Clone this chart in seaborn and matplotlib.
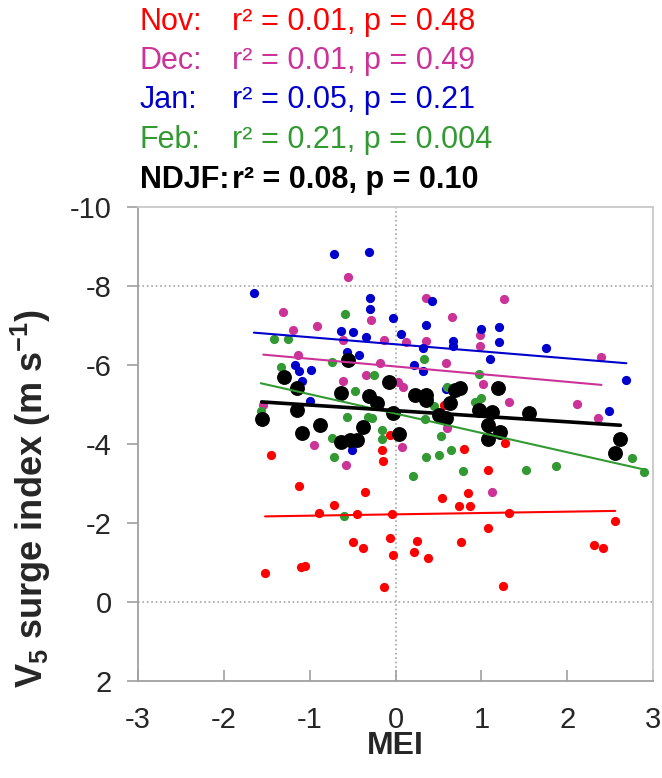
import matplotlib
matplotlib.use('Agg')
import matplotlib.pyplot as plt
import seaborn as sns
import numpy as np

# MEI (x) and V5 surge index (y, m/s) per month
nov_mei = [-1.45, -1.12, -0.89, -0.72, -0.45, -0.35, -0.50, -0.38, -1.52, -1.10,
           -1.05, -0.16, -0.14, -0.13, -0.04, -0.06, -0.03, 0.25, 0.21, 0.375,
           0.54, 0.84, 0.74, 0.87, 0.80, 1.08, 0.76, 1.08, 1.28, 1.25,
           1.32, 2.56, 2.31, 2.42, 0.56, -0.06]
nov_v5 = [-3.72, -2.94, -2.26, -2.45, -2.22, -2.79, -1.53, -1.37, -0.73, -0.88,
          -0.91, -3.85, -3.58, -0.37, -2.22, -1.62, -1.18, -1.54, -1.27, -1.12,
          -2.64, -2.76, -2.43, -2.43, -3.86, -3.35, -1.53, -1.87, -4.02, -0.40,
          -2.26, -2.05, -1.44, -1.36, -4.99, -4.23]

dec_mei = [-0.55, -1.31, -1.19, -0.92, -1.14, -0.61, -0.61, -1.54, -0.34, -0.29,
           -0.95, -0.58, 0.35, 0.66, -0.13, 0.12, 0.35, 0.99, 0.99, -0.18,
           0.59, 1.26, 0.09, 1.02, 1.32, 2.12, 2.40, 2.36, 0.03, 0.07,
           1.13, 0.60]
dec_v5 = [-8.22, -7.35, -6.89, -6.99, -6.25, -6.63, -5.59, -4.99, -5.75, -7.14,
          -3.97, -3.47, -7.70, -7.21, -6.64, -6.58, -6.61, -6.77, -6.49, -6.06,
          -6.06, -7.66, -5.43, -5.52, -5.06, -5.01, -6.20, -4.65, -5.58, -3.93,
          -2.79, -4.40]

jan_mei = [-1.65, -0.72, -0.31, -0.30, -0.30, -0.64, -0.50, -0.34, -0.57, -0.43,
           -1.17, -1.13, -0.98, -1.09, -1.00, -0.03, 0.35, 0.42, 0.06, 0.32,
           0.22, 0.32, 0.67, 0.67, 1.00, 1.21, 1.21, 1.10, 0.59, 1.75,
           2.69, 2.49, -0.51]
jan_v5 = [-7.81, -8.81, -8.87, -7.69, -7.42, -6.85, -6.83, -6.72, -6.34, -6.24,
          -6.00, -5.85, -5.87, -5.59, -5.10, -7.20, -7.01, -7.62, -6.79, -6.42,
          -6.00, -5.85, -6.61, -6.49, -6.90, -6.97, -6.57, -6.14, -5.39, -6.42,
          -5.62, -4.84, -3.85]

feb_mei = [-0.59, -1.41, -1.25, -0.74, -1.33, -0.47, -1.57, -0.57, -0.74, -0.72,
           -0.60, -0.16, -0.16, -0.27, 0.34, 0.53, 0.65, 0.51, 0.35, 0.20,
           0.79, 1.52, 1.87, 2.76, 2.89, 0.95, 0.33, 0.97, 0.60, 1.00,
           0.93, -0.25, 0.45, -0.32]
feb_v5 = [-7.29, -6.66, -6.66, -6.08, -5.96, -5.34, -4.84, -4.67, -4.16, -3.66,
          -2.18, -4.35, -4.12, -4.65, -4.63, -4.21, -3.85, -3.72, -3.66, -3.20,
          -3.32, -3.35, -3.44, -3.65, -3.30, -5.07, -6.14, -5.76, -5.45, -5.16,
          -5.06, -5.75, -4.96, -4.69]

ndjf_mei = [-0.55, -1.30, -1.15, -0.63, -0.31, -1.15, -1.56, -1.09, -0.88, -0.63,
            -0.53, -0.45, -0.38, -0.08, -0.22, 0.23, 0.36, 0.69, 0.75, 0.64,
            0.36, 1.19, 0.97, 1.12, 1.55, -0.03, 0.04, 0.51, 0.59, 1.08,
            1.08, 1.22, 2.62, 2.56]
ndjf_v5 = [-6.13, -5.69, -5.41, -5.28, -5.22, -4.86, -4.62, -4.27, -4.48, -4.06,
           -4.10, -4.10, -4.44, -5.58, -5.03, -5.24, -5.11, -5.37, -5.41, -5.03,
           -5.24, -5.41, -4.86, -4.82, -4.79, -4.78, -4.25, -4.73, -4.65, -4.48,
           -4.12, -4.31, -4.12, -3.78]

stats_labels = ['Nov:', 'Dec:', 'Jan:', 'Feb:', 'NDJF:']
stats_texts = ['r² = 0.01, p = 0.48', 'r² = 0.01, p = 0.49', 'r² = 0.05, p = 0.21',
               'r² = 0.21, p = 0.004', 'r² = 0.08, p = 0.10']

sns.set_style('white')
plt.rcParams['font.family'] = ['Liberation Sans', 'DejaVu Sans']
plt.rcParams['axes.unicode_minus'] = False
plt.rcParams['mathtext.fontset'] = 'custom'
plt.rcParams['mathtext.rm'] = 'Liberation Sans'
plt.rcParams['mathtext.bf'] = 'Liberation Sans:bold'
plt.rcParams['mathtext.it'] = 'Liberation Sans:italic'

fig = plt.figure(figsize=(6.62, 7.78), dpi=100)
ax = fig.add_axes([0.2085, 0.1247, 0.7779, 0.6093])

# dotted reference lines
for yv in (-8, 0):
    ax.axhline(yv, color='#A6A6A6', linestyle=':', linewidth=1.2, zorder=0)
ax.axvline(0, color='#A6A6A6', linestyle=':', linewidth=1.2, zorder=0)

series = [
    (nov_mei, nov_v5, '#FF0000', 44, 1.5),
    (dec_mei, dec_v5, '#CC3399', 44, 1.5),
    (jan_mei, jan_v5, '#0000CC', 44, 1.5),
    (feb_mei, feb_v5, '#339933', 44, 1.5),
    (ndjf_mei, ndjf_v5, '#000000', 115, 2.6),
]
for xs, ys, col, size, lw in series:
    sns.regplot(x=np.array(xs), y=np.array(ys), ax=ax, ci=None, color=col,
                scatter_kws=dict(s=size, linewidths=0, alpha=1),
                line_kws=dict(linewidth=lw))

ax.set_xlim(-3, 3)
ax.set_ylim(2, -10)
ax.set_xticks(range(-3, 4))
ax.set_yticks(range(-10, 3, 2))

for side in ('left', 'bottom'):
    ax.spines[side].set_color('#A0A0A0')
    ax.spines[side].set_linewidth(1.3)
for side in ('top', 'right'):
    ax.spines[side].set_color('#C8C8C8')
    ax.spines[side].set_linewidth(1.3)

ax.tick_params(axis='y', direction='out', length=8, width=1.2, color='#A0A0A0',
               labelsize=21, pad=11, left=True)
ax.tick_params(axis='x', direction='in', length=8, width=1.2, color='#A0A0A0',
               labelsize=21, pad=18, bottom=True)

ax.set_xlabel('MEI', fontsize=23, fontweight='bold', labelpad=-2)
ax.set_ylabel(r'$\mathbf{V_5}$ surge index (m s$^{\mathbf{-1}}$)',
              fontsize=26, fontweight='bold')
ax.yaxis.set_label_coords(-0.165, 0.385)

# statistics header
text_colors = ['#FF0000', '#CC3399', '#0000CC', '#339933', '#000000']
y_px = [22, 61, 100, 140, 180]
for lab, txt, col, yp in zip(stats_labels, stats_texts, text_colors, y_px):
    w = 'bold' if lab == 'NDJF:' else 'normal'
    fig.text(140 / 662, 1 - yp / 778, lab, color=col, fontsize=22,
             fontweight=w, va='center', ha='left')
    fig.text(232 / 662, 1 - yp / 778, txt, color=col, fontsize=22,
             fontweight=w, va='center', ha='left')

fig.savefig('out.png', dpi=100)
